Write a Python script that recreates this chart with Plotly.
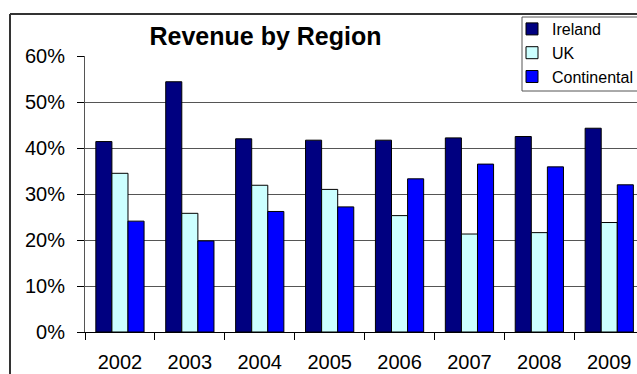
import plotly.graph_objects as go

years = ["2002", "2003", "2004", "2005", "2006", "2007", "2008", "2009"]
ireland = [41.4, 54.4, 42.0, 41.7, 41.7, 42.2, 42.5, 44.3]
uk = [34.5, 25.8, 31.9, 31.0, 25.3, 21.3, 21.6, 23.8]
continental = [24.1, 19.8, 26.2, 27.2, 33.3, 36.5, 35.9, 32.0]
y_ticks = [0, 10, 20, 30, 40, 50, 60]
y_tick_labels = [f"{v}%" for v in y_ticks]

W, H = 637, 374
L, R, T, B = 85, 0, 56, 42
pw, ph = W - L - R, H - T - B

FONT = "Arial, Liberation Sans, sans-serif"

fig = go.Figure()
for name, vals, col in [("Ireland", ireland, "#000080"),
                        ("UK", uk, "#CCFFFF"),
                        ("Continental", continental, "#0000FF")]:
    fig.add_trace(go.Bar(x=years, y=vals, name=name, marker_color=col,
                         marker_line_color="#000000", marker_line_width=1))

cat_w = 69.9
x_end = -0.5 + pw / cat_w


def px(x):
    return (x - L) / pw


def py(y):
    return 1 + (T - y) / ph


fig.update_layout(
    width=W, height=H,
    margin=dict(l=L, r=R, t=T, b=B, pad=0, autoexpand=False),
    paper_bgcolor="white", plot_bgcolor="white",
    barmode="group", bargap=0.31, bargroupgap=0,
    font=dict(family=FONT, color="#000000"),
    title=dict(text="<b>Revenue by Region</b>", x=px(265.5), xref="paper",
               xanchor="center", y=1 - 36 / H, yref="container", yanchor="middle",
               font=dict(size=25, family=FONT, color="#000")),
    legend=dict(x=px(512), y=py(12), xanchor="left", yanchor="top",
                borderwidth=0, bgcolor="rgba(0,0,0,0)",
                font=dict(size=16, family=FONT), tracegroupgap=0,
                itemwidth=30),
    xaxis=dict(type="category", range=[-0.5, x_end], tickson="boundaries",
               ticks="outside", ticklen=7, tickcolor="#000", tickwidth=1,
               showline=True, linecolor="#000", linewidth=1,
               showgrid=False, tickfont=dict(size=20, family=FONT),
               ticklabelstandoff=12),
    yaxis=dict(range=[0, 60], tickvals=y_ticks, ticktext=y_tick_labels,
               ticks="outside", ticklen=7, tickcolor="#000", tickwidth=1,
               showline=True, linecolor="#555", linewidth=1,
               showgrid=True, gridcolor="#555", gridwidth=1,
               zeroline=False, tickfont=dict(size=20, family=FONT),
               ticklabelstandoff=8),
)

# outer chart-area frame: only the left and top edges are inside the window
fig.add_shape(type="line", xref="paper", yref="paper",
              x0=px(10), x1=px(10), y0=py(H), y1=py(14),
              line=dict(color="#333", width=2), layer="below")
fig.add_shape(type="line", xref="paper", yref="paper",
              x0=px(10), x1=px(W), y0=py(14), y1=py(14),
              line=dict(color="#333", width=2), layer="below")
# legend frame (its right edge lies at the window edge)
fig.add_shape(type="path", xref="paper", yref="paper",
              path=(f"M {px(W)},{py(17)} L {px(522)},{py(17)} "
                    f"L {px(522)},{py(91)} L {px(W)},{py(91)}"),
              line=dict(color="#555", width=1), fillcolor="white", layer="above")

fig.write_html("out.html")
